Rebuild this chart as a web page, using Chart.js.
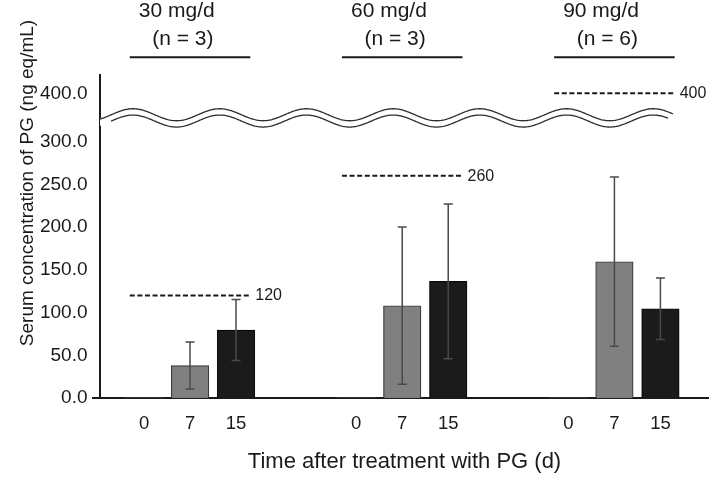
<!DOCTYPE html>
<html><head><meta charset="utf-8">
<script src="https://cdn.jsdelivr.net/npm/chart.js@4"></script>
<style>html,body{margin:0;padding:0;background:#fff}canvas{display:block}</style>
</head><body>
<canvas id="c" width="709" height="478"></canvas>
<script>
// ---- data ----
const groups = ['30 mg/d', '60 mg/d', '90 mg/d'];
const groupN = ['(n = 3)', '(n = 3)', '(n = 6)'];
const days = ['0', '7', '15'];
const mean0 = [0, 0, 0];
const mean7 = [38, 108, 159.5];
const sd7 = [27.5, 92, 99];
const mean15 = [79.5, 136.5, 104.5];
const sd15 = [35.7, 90.5, 36];
const limits = [120, 260, 400];
const yTicks = [0, 50, 100, 150, 200, 250, 300, 400];

// ---- layout constants ----
const DAY_OFF = [-1, 0, 1];
const GROUP_STEP = 4.613;
const LIM_HALF = 1.31;
const X_MIN = -1.957, X_MAX = X_MIN + 609 / 46;
const Y_MAX = 378;
const brk = v => v <= 300 ? v : 356.6 + (v - 400) * 0.2;   // axis break 300 -> 400
const xPos = (g, d) => g * GROUP_STEP + DAY_OFF[d];

const FONT = "'Liberation Sans', Arial, Helvetica, sans-serif";
const INK = '#1a1a1a';

function barData(arr, d) { return arr.map((v, g) => ({ x: xPos(g, d), y: v })); }

const datasets = [
  { type: 'bar', label: '0 d', data: barData(mean0, 0), backgroundColor: '#808080', borderWidth: 0, grouped: false, barThickness: 37.5 },
  { type: 'bar', label: '7 d', data: barData(mean7, 1), sd: sd7, backgroundColor: '#808080', borderColor: '#3a3a3a', borderWidth: 1.2, grouped: false, barThickness: 37.5 },
  { type: 'bar', label: '15 d', data: barData(mean15, 2), sd: sd15, backgroundColor: '#1b1b1b', borderColor: '#0a0a0a', borderWidth: 1.2, grouped: false, barThickness: 37.5 }
];
limits.forEach((v, g) => {
  datasets.push({ type: 'line', label: 'limit ' + g, limit: v,
    data: [{ x: xPos(g, 1) - LIM_HALF, y: brk(v) }, { x: xPos(g, 1) + LIM_HALF, y: brk(v) }],
    borderColor: INK, borderWidth: 2, borderDash: [5, 2.6], pointRadius: 0, fill: false });
});

const decor = {
  id: 'decor',
  afterDatasetsDraw(chart) {
    const ctx = chart.ctx, ys = chart.scales.y;
    ctx.save();
    // error bars
    chart.data.datasets.forEach((ds, i) => {
      if (!ds.sd) return;
      const meta = chart.getDatasetMeta(i);
      meta.data.forEach((el, j) => {
        const m = ds.data[j].y, s = ds.sd[j];
        const yt = ys.getPixelForValue(m + s), yb = ys.getPixelForValue(m - s);
        ctx.strokeStyle = '#4a4a4a'; ctx.lineWidth = 1.5;
        ctx.beginPath();
        ctx.moveTo(el.x, yt); ctx.lineTo(el.x, yb);
        ctx.moveTo(el.x - 4.5, yt); ctx.lineTo(el.x + 4.5, yt);
        ctx.moveTo(el.x - 4.5, yb); ctx.lineTo(el.x + 4.5, yb);
        ctx.stroke();
      });
    });
    // limit labels
    ctx.fillStyle = INK; ctx.font = '16px ' + FONT; ctx.textAlign = 'left'; ctx.textBaseline = 'middle';
    chart.data.datasets.forEach((ds, i) => {
      if (ds.limit === undefined) return;
      const p = chart.getDatasetMeta(i).data[1];
      ctx.fillText(String(ds.limit), p.x + 5, p.y + 0.5);
    });
    ctx.restore();
  },
  afterDraw(chart) {
    const ctx = chart.ctx, xs = chart.scales.x, ys = chart.scales.y, ca = chart.chartArea;
    ctx.save();
    // x axis extension
    ctx.strokeStyle = INK; ctx.lineWidth = 2;
    ctx.beginPath(); ctx.moveTo(ca.left - 8, ca.bottom); ctx.lineTo(ca.left, ca.bottom); ctx.stroke();
    // wavy axis break
    const mid = ys.getPixelForValue(331.5), A = 6, gap = 6.3, P = 86.7, x0 = ca.left, x1 = ca.left + 573, ph = 133;
    const wy = x => mid - A * Math.cos(2 * Math.PI * (x - ph) / P);
    ctx.fillStyle = '#fff';
    ctx.beginPath();
    for (let x = x0; x <= x1; x += 1) ctx.lineTo(x, wy(x) - 0.5);
    for (let x = x1; x >= x0; x -= 1) ctx.lineTo(x, wy(x) + gap + 0.5);
    ctx.closePath(); ctx.fill();
    ctx.strokeStyle = '#2e2e2e'; ctx.lineWidth = 1.3;
    ctx.beginPath();
    for (let x = x0; x <= x1; x += 1) ctx.lineTo(x, wy(x));
    ctx.stroke();
    ctx.beginPath();
    for (let x = x0 + 11; x <= x1 - 5; x += 1) ctx.lineTo(x, wy(x) + gap);
    ctx.stroke();
    // group headers
    groups.forEach((g, i) => {
      const a = xs.getPixelForValue(xPos(i, 1) - LIM_HALF), b = xs.getPixelForValue(xPos(i, 1) + LIM_HALF);
      ctx.strokeStyle = INK; ctx.lineWidth = 2;
      ctx.beginPath(); ctx.moveTo(a, 57.3); ctx.lineTo(b, 57.3); ctx.stroke();
      ctx.fillStyle = INK; ctx.font = '21px ' + FONT; ctx.textAlign = 'left'; ctx.textBaseline = 'alphabetic';
      ctx.fillText(g, a + 9, 16.8);
      ctx.fillText(groupN[i], a + 22.5, 44.5);
    });
    // y title
    ctx.translate(27.5, 183); ctx.rotate(-Math.PI / 2);
    ctx.fillStyle = INK; ctx.font = '19px ' + FONT; ctx.textAlign = 'center'; ctx.textBaseline = 'middle';
    ctx.fillText('Serum concentration of PG (ng eq/mL)', 0, 0);
    ctx.restore();
  }
};

new Chart(document.getElementById('c'), {
  type: 'bar',
  data: { datasets },
  options: {
    responsive: false, animation: false,
    layout: { padding: { top: 75, left: 0, right: 0, bottom: 0 } },
    plugins: { legend: { display: false }, tooltip: { enabled: false } },
    scales: {
      x: {
        type: 'linear', min: X_MIN, max: X_MAX, offset: false,
        grid: { display: false, drawTicks: false }, border: { display: true, color: INK, width: 2 },
        afterBuildTicks: s => { const t = []; groups.forEach((_, g) => days.forEach((_, d) => t.push({ value: xPos(g, d) }))); s.ticks = t; },
        ticks: { autoSkip: false, maxRotation: 0, padding: 15, color: INK, font: { size: 18.5, family: FONT }, callback: (v, i) => days[i % 3] },
        title: { display: true, text: 'Time after treatment with PG (d)', color: INK, font: { size: 22, family: FONT }, padding: { top: 0, bottom: 3 } },
        afterFit: s => { s.height = 80; }
      },
      y: {
        min: 0, max: Y_MAX,
        grid: { display: false, drawTicks: false }, border: { display: true, color: INK, width: 2 },
        afterBuildTicks: s => { s.ticks = yTicks.map(t => ({ value: brk(t) })); },
        ticks: { padding: 12.5, color: INK, font: { size: 19, family: FONT }, callback: (v, i) => yTicks[i].toFixed(1) },
        afterFit: s => { s.width = 100; }
      }
    }
  },
  plugins: [decor]
});
</script>
</body></html>
